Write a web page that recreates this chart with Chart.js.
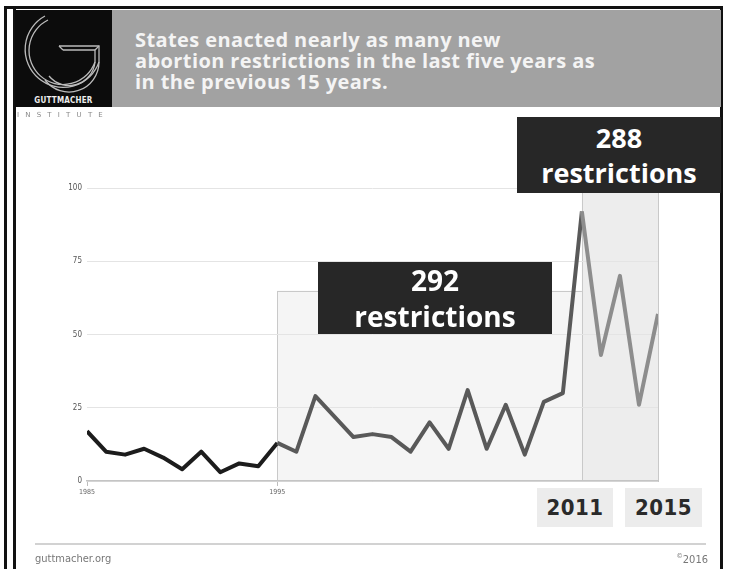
<!DOCTYPE html>
<html>
<head>
<meta charset="utf-8">
<script src="https://cdn.jsdelivr.net/npm/chart.js@4.4.0/dist/chart.umd.min.js"></script>
<style>
  html, body { margin: 0; padding: 0; background: #fff; }
  body { width: 729px; height: 569px; position: relative; overflow: hidden; font-family: "Open Sans", sans-serif; }
  #chart { position: absolute; left: 0; top: 0; }
  .abs { position: absolute; }
  .frame { left: 4px; top: 6px; width: 713px; height: 600px; border-left: 3px solid #111; border-top: 3px solid #111; border-right: 3px solid #111; }
  .inner { left: 13px; top: 6px; width: 3px; height: 600px; background: #111; }
  .logo { left: 15px; top: 10px; width: 97px; height: 97px; background: #0c0c0c; }
  .logo .name { position: absolute; left: 0; bottom: 2px; width: 97px; text-align: center; color: #eee; font: 700 8px "DejaVu Sans Condensed", sans-serif; letter-spacing: 0.2px; }
  .inst { left: 17px; top: 111px; width: 95px; color: #888; font: 7px "DejaVu Sans", sans-serif; letter-spacing: 6.2px; }
  .header { left: 112px; top: 10px; width: 609px; height: 97px; background: #a2a2a2; }
  .title { left: 135px; top: 29px; color: #f4f4f4; font-weight: 700; font-size: 20px; letter-spacing: 0.4px; line-height: 21px; }
  .callout { background: #272727; color: #fff; font-weight: 700; text-align: center; box-sizing: border-box; }
  .yearbox { background: #ececec; color: #2a2a2a; font: 700 22px "DejaVu Sans Condensed", sans-serif; text-align: center; line-height: 40px; letter-spacing: 0.5px; }
  .rule { left: 35px; top: 543px; width: 671px; height: 2px; background: #d2d2d2; }
  .foot { top: 552px; color: #777; font: 11px "Liberation Sans Narrow", "DejaVu Sans Condensed", sans-serif; }
</style>
</head>
<body>
<canvas id="chart" width="729" height="569"></canvas>

<div class="abs frame"></div>
<div class="abs inner"></div>
<div class="abs header"></div>
<div class="abs logo">
  <svg width="97" height="88" viewBox="0 0 97 88">
    <g fill="none" stroke="#bbb" stroke-width="1.3">
      <path d="M30 6 A38 38 0 1 0 84 52"/>
      <path d="M33 10 A34 34 0 1 0 80 52"/>
      <path d="M44 36 L84 36 L84 52 A30 30 0 0 1 30 70"/>
      <path d="M48 40 L80 40 L80 52 A26 26 0 0 1 34 66"/>
      <path d="M44 36 L48 40 M84 36 L80 40"/>
    </g>
  </svg>
  <div class="name">GUTTMACHER</div>
</div>
<div class="abs inst">INSTITUTE</div>
<div class="abs title">States enacted nearly as many new<br>abortion restrictions in the last five years as<br>in the previous 15 years.</div>

<div class="abs callout" style="left:318px;top:262px;width:234px;height:72px;font-size:28px;line-height:36px;padding-top:0px;">292<br>restrictions</div>
<div class="abs callout" style="left:517px;top:117px;width:204px;height:76px;font-size:27px;line-height:35px;padding-top:3px;">288<br>restrictions</div>
<div class="abs yearbox" style="left:537px;top:488px;width:76px;height:39px;">2011</div>
<div class="abs yearbox" style="left:625px;top:488px;width:77px;height:39px;">2015</div>

<div class="abs rule"></div>
<div class="abs foot" style="left:35px;">guttmacher.org</div>
<div class="abs foot" style="left:660px;width:48px;text-align:right;"><sup style="font-size:7px">©</sup>2016</div>

<script>
const years = [1985, 1986, 1987, 1988, 1989, 1990, 1991, 1992, 1993, 1994, 1995,
  1996, 1997, 1998, 1999, 2000, 2001, 2002, 2003, 2004, 2005, 2006, 2007, 2008, 2009, 2010,
  2011, 2012, 2013, 2014, 2015];
const restrictions = [17, 10, 9, 11, 8, 4, 10, 3, 6, 5, 13,
  10, 29, 22, 15, 16, 15, 10, 20, 11, 31, 11, 26, 9, 27, 30,
  92, 43, 70, 26, 57];
const yTicks = [0, 25, 50, 75, 100];
const xTicks = [1985, 1995];
// period boundaries: first 10 years, previous 15 years, last five years
const periodStart = 1995;
const recentStart = 2011;
const periodEnd = 2015;
const middleBoxTop = 65;

const segmentColor = ctx => {
  const x = ctx.p0.parsed.x;
  if (x < periodStart) return '#1c1c1c';
  if (x < recentStart) return '#595959';
  return '#8d8d8d';
};

const periodBoxes = {
  id: 'periodBoxes',
  beforeDraw(chart) {
    const { ctx, scales: { x, y } } = chart;
    const drawBox = (x0, x1, top, fill) => {
      const l = x.getPixelForValue(x0), r = x.getPixelForValue(x1);
      const t = y.getPixelForValue(top), b = y.getPixelForValue(0);
      ctx.save();
      ctx.fillStyle = fill;
      ctx.fillRect(l, t, r - l, b - t);
      ctx.strokeStyle = '#c9c9c9';
      ctx.lineWidth = 1;
      ctx.strokeRect(Math.round(l) + 0.5, Math.round(t) + 0.5, Math.round(r - l), Math.round(b - t));
      ctx.restore();
    };
    drawBox(periodStart, recentStart, middleBoxTop, '#f5f5f5');
    drawBox(recentStart, periodEnd, 100, '#ededed');
  }
};

new Chart(document.getElementById('chart'), {
  type: 'line',
  data: {
    datasets: [{
      data: years.map((yr, i) => ({ x: yr, y: restrictions[i] })),
      borderWidth: 4,
      borderColor: '#595959',
      pointRadius: 0,
      tension: 0,
      borderJoinStyle: 'round',
      segment: { borderColor: segmentColor }
    }]
  },
  options: {
    responsive: false,
    animation: false,
    layout: { padding: { left: 57, right: 71, top: 188, bottom: 68 } },
    plugins: { legend: { display: false }, tooltip: { enabled: false } },
    scales: {
      x: {
        type: 'linear',
        min: 1985,
        max: 2015,
        afterBuildTicks: scale => { scale.ticks = xTicks.map(v => ({ value: v })); },
        afterFit: scale => { scale.height = 20; },
        grid: { drawOnChartArea: false, tickLength: 5, color: '#bdbdbd' },
        border: { color: '#c4c4c4', width: 1.5 },
        ticks: { color: '#666', font: { size: 7, family: 'DejaVu Sans Condensed' }, padding: 2, maxRotation: 0, callback: v => String(v) }
      },
      y: {
        min: 0,
        max: 100,
        afterBuildTicks: scale => { scale.ticks = yTicks.map(v => ({ value: v })); },
        afterFit: scale => { scale.width = 30; },
        grid: { drawTicks: false, color: '#e4e4e4' },
        border: { display: false },
        ticks: { color: '#555', font: { size: 8, family: 'DejaVu Sans Condensed' }, padding: 5 }
      }
    }
  },
  plugins: [periodBoxes]
});
</script>
</body>
</html>
